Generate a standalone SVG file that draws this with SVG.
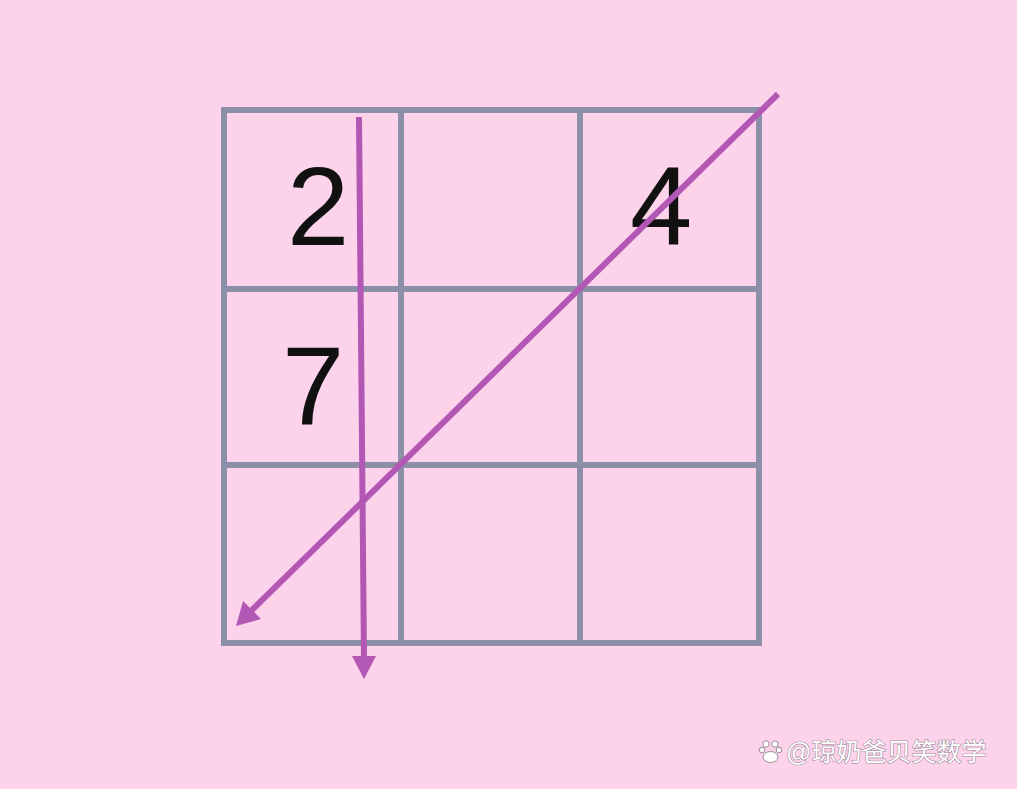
<svg xmlns="http://www.w3.org/2000/svg" width="1017" height="789" viewBox="0 0 1017 789">
<style>
.grid{stroke:#8b90a8;stroke-width:6;stroke-linecap:square;fill:none}
.arr{stroke:#b257b4;stroke-width:6;fill:none}
.num{font-family:"Liberation Sans",Arial,sans-serif;font-size:112px;fill:#111}
.wm{font-family:"Liberation Sans","Noto Sans CJK SC",sans-serif;font-size:25px;fill:#fff;stroke:#9a8a96;stroke-width:1.2;paint-order:stroke}
</style>
<rect width="1017" height="789" fill="#fdd3ec"/>
<g id="grid">
<path class="grid" d="M224 110V643M401 110V643M580 110V643M759 110V643M224 110H759M224 289H759M224 465H759M224 643H759"/>
</g>
<g id="n2"><text class="num" x="287" y="245">2</text></g>
<g id="n7"><text class="num" x="282" y="424">7</text></g>
<g id="n4"><text class="num" x="630" y="244">4</text></g>
<g id="connectors">
<line class="arr" x1="359" y1="117" x2="364" y2="660"/>
<polygon points="352,656 376,656 364,679" fill="#b257b4"/>
<line class="arr" x1="778" y1="94" x2="250" y2="612"/>
<polygon points="236,626 243,601 261,619" fill="#b257b4"/>
</g>
<g id="watermark">
<g fill="#fff" stroke="#9a8a96" stroke-width="1">
<circle cx="766" cy="744" r="3.2"/><circle cx="775" cy="744" r="3.2"/>
<circle cx="762" cy="750" r="2.8"/><circle cx="779" cy="750" r="2.8"/>
<ellipse cx="770.5" cy="757" rx="7.5" ry="5.5"/>
</g>
<text class="wm" x="786" y="761">@琼奶爸贝笑数学</text>
</g>
</svg>
